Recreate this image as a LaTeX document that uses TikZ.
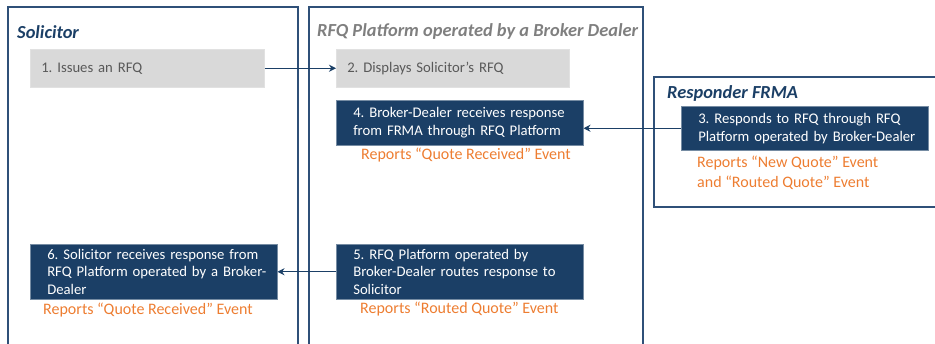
\documentclass[tikz,border=0pt]{standalone}
\usepackage{fontspec}
\setmainfont{Carlito}
\frenchspacing
\usetikzlibrary{arrows.meta, positioning, calc}
\definecolor{rfqNavy}{HTML}{1B3F66}
\definecolor{rfqFrame}{HTML}{2F5078}
\definecolor{rfqGrey}{HTML}{D9D9D9}
\definecolor{rfqText}{HTML}{595959}
\definecolor{rfqTitle}{HTML}{7F7F7F}
\definecolor{rfqOrange}{HTML}{ED7D31}
\tikzset{
  frame/.style     = {rfqFrame, line width=1.5pt},
  title/.style     = {anchor=west, inner sep=0pt, font=\fontsize{18.4}{22}\selectfont\bfseries\itshape},
  greybox/.style   = {anchor=north west, fill=rfqGrey, draw=rfqGrey!80!white, line width=0.5pt,
                      text=rfqText, align=left, inner xsep=5pt, inner ysep=0pt,
                      text width=#1, minimum height=38pt,
                      execute at begin node={\leftskip=6pt},
                      font=\fontsize{14.7}{17.5}\selectfont},
  navybox/.style   = {anchor=north west, fill=rfqNavy, draw=rfqNavy!60!white, line width=0.5pt,
                      text=white, align=left, inner xsep=6pt, inner ysep=0pt,
                      text width=#1, execute at begin node={\leftskip=11pt},
                      font=\fontsize{14.7}{17.8}\selectfont},
  report/.style    = {anchor=west, inner sep=0pt, text=rfqOrange, align=left,
                      font=\fontsize{16}{20}\selectfont},
  flow/.style      = {-{Stealth[length=7pt, width=7pt]}, rfqNavy, line width=1.1pt},
}
\begin{document}
\begin{tikzpicture}[x=1pt, y=-1pt]
  \useasboundingbox (0,0) rectangle (935,343);
  % lanes
  \draw[frame] (8,360) -- (8,7) -- (298,7) -- (298,360);
  \draw[frame] (309,360) -- (309,7) -- (643,7) -- (643,360);
  \draw[frame] (950,77) -- (654,77) -- (654,207) -- (950,207);
  \node[title, rfqNavy]  (solTitle)  at (17,32) {Solicitor};
  \node[title, rfqTitle] (platTitle) at (317,31) {RFQ Platform operated by a Broker Dealer};
  \node[title, rfqNavy]  (respTitle) at (667,93) {Responder FRMA};
  % steps
  \node[greybox=224pt] (solIssue)    at (30,49)  {1. Issues an RFQ};
  \node[greybox=223pt] (platDisplay) at (336,49) {2. Displays Solicitor’s RFQ};
  \node[navybox=235pt, minimum height=45pt] (platReceive) at (336,100)
    {4. Broker-Dealer receives response\\from FRMA through RFQ Platform};
  \node[navybox=235pt, minimum height=44pt] (respQuote) at (681,106)
    {3. Responds to RFQ through RFQ\\Platform operated by Broker-Dealer};
  \node[navybox=235pt, minimum height=55pt] (platRoute) at (336,244)
    {5. RFQ Platform operated by\\Broker-Dealer routes response to\\Solicitor};
  \node[navybox=235pt, minimum height=55pt] (solReceive) at (30,244)
    {6. Solicitor receives response from\\RFQ Platform operated by a Broker-\\Dealer};
  % reported events
  \node[report] (platReceiveEv) at (361,155) {Reports “Quote Received” Event};
  \node[report] (respQuoteEv)   at (697,173) {Reports “New Quote” Event\\and “Routed Quote” Event};
  \node[report] (platRouteEv)   at (360,309) {Reports “Routed Quote” Event};
  \node[report] (solReceiveEv)  at (43,310)  {Reports “Quote Received” Event};
  % flows
  \draw[flow] (solIssue.east) -- (platDisplay.west);
  \draw[flow] (respQuote.west) -- (respQuote.west -| platReceive.east);
  \draw[flow] (platRoute.west) -- (solReceive.east);
\end{tikzpicture}
\end{document}
